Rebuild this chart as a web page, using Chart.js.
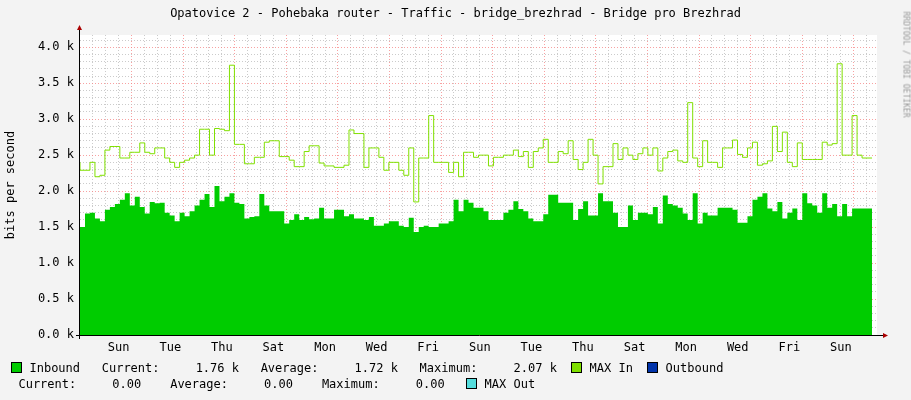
<!DOCTYPE html>
<html>
<head>
<meta charset="utf-8">
<script src="https://cdn.jsdelivr.net/npm/chart.js@4/dist/chart.umd.min.js"></script>
<style>
  body { margin: 0; background: #f3f3f3; font-family: 'DejaVu Sans Mono', monospace; }
  #wrap { position: relative; width: 911px; height: 400px; }
  canvas { position: absolute; left: 0; top: 0; }
  .title { position: absolute; top: 6px; left: 0; width: 911px; text-align: center; font-size: 12px; color: #000; }
  .side { position: absolute; right: -48px; top: 60px; transform: rotate(90deg); font-size: 8px; color: #999; white-space: nowrap; }
  pre { position: absolute; margin: 0; font-family: 'DejaVu Sans Mono', monospace; font-size: 12px; color: #000; }
  .sq { display: inline-block; width: 9px; height: 9px; border: 1px solid #000; vertical-align: -1px; }
</style>
</head>
<body>
<div id="wrap">
  <canvas id="grafico" width="911" height="400"></canvas>
  <div class="title">Opatovice 2 - Pohebaka router - Traffic - bridge_brezhrad - Bridge pro Brezhrad</div>
  <div class="side">RRDTOOL / TOBI OETIKER</div>
  <pre style="left:4px;top:361px;"> <span class="sq" style="background:#00cc00"></span> Inbound   Current:     1.76 k   Average:     1.72 k   Maximum:     2.07 k  <span class="sq" style="background:#7fe000"></span> MAX In  <span class="sq" style="background:#0033aa"></span> Outbound</pre>
  <pre style="left:4px;top:377px;">  Current:     0.00    Average:     0.00    Maximum:     0.00   <span class="sq" style="background:#55dddd"></span> MAX Out</pre>
</div>
<script>
// --- DATOS ---
const etiquetasDias = ['Sun', 'Tue', 'Thu', 'Sat', 'Mon', 'Wed', 'Fri', 'Sun', 'Tue', 'Thu', 'Sat', 'Mon', 'Wed', 'Fri', 'Sun'];
const diasTotales = 30.9;

// inbound (k bits/s)
const inbound = [
  1.67,1.50,1.69,1.70,1.62,1.58,
  1.74,1.78,1.82,1.88,1.97,1.80,1.92,1.78,
  1.69,1.85,1.83,1.84,1.70,1.66,1.58,
  1.70,1.65,1.72,1.80,1.88,1.96,1.78,2.07,1.86,
  1.92,1.97,1.84,1.82,1.62,1.64,1.65,1.96,1.80,
  1.72,1.72,1.72,1.55,1.60,1.68,1.60,1.64,1.61,1.62,1.77,
  1.62,1.62,1.74,1.74,1.65,1.68,1.62,1.62,1.60,1.64,1.52,1.52,
  1.55,1.58,1.58,1.52,1.50,1.63,1.43,1.50,1.52,1.50,1.50,
  1.55,1.55,1.58,1.88,1.72,1.88,1.84,1.77,1.77,1.72,1.60,
  1.60,1.60,1.70,1.74,1.86,1.75,1.72,1.62,1.58,1.58,1.68,
  1.95,1.95,1.84,1.84,1.84,1.60,1.75,1.86,1.66,1.66,1.97,
  1.86,1.86,1.70,1.50,1.50,1.80,1.60,1.70,1.70,1.68,1.78,
  1.55,1.94,1.82,1.80,1.77,1.69,1.60,1.97,1.55,1.70,
  1.66,1.66,1.77,1.77,1.77,1.74,1.56,1.56,1.65,1.88,1.92,
  1.97,1.76,1.72,1.85,1.62,1.70,1.76,1.60,1.97,1.83,
  1.80,1.70,1.97,1.77,1.82,1.65,1.82,1.65,1.76,1.76,1.76,1.76
];

// MAX In (k bits/s)
const maxIn = [
  2.40,2.29,2.29,2.40,2.20,2.22,
  2.57,2.62,2.62,2.46,2.46,2.54,2.54,2.67,
  2.54,2.52,2.60,2.60,2.46,2.40,2.33,
  2.40,2.43,2.46,2.50,2.86,2.86,2.50,2.87,2.86,
  2.84,3.75,2.65,2.65,2.38,2.38,2.47,2.47,2.68,
  2.70,2.70,2.48,2.48,2.43,2.34,2.34,2.55,2.63,2.63,2.39,
  2.35,2.35,2.33,2.33,2.36,2.85,2.80,2.80,2.33,2.60,2.60,2.47,
  2.29,2.40,2.40,2.29,2.22,2.60,1.85,2.46,2.46,3.05,2.40,
  2.40,2.40,2.26,2.40,2.20,2.54,2.54,2.47,2.50,2.50,2.35,
  2.47,2.47,2.50,2.50,2.57,2.48,2.55,2.33,2.55,2.60,2.72,
  2.40,2.40,2.55,2.52,2.70,2.44,2.30,2.40,2.72,2.50,2.10,
  2.34,2.34,2.66,2.44,2.60,2.50,2.44,2.52,2.60,2.50,2.60,
  2.28,2.46,2.55,2.57,2.42,2.40,3.23,2.46,2.34,2.70,
  2.40,2.40,2.33,2.60,2.60,2.71,2.51,2.47,2.60,2.68,2.36,
  2.38,2.42,2.90,2.55,2.82,2.40,2.34,2.67,2.44,2.44,
  2.44,2.44,2.68,2.64,2.66,3.77,2.50,2.50,3.05,2.50,2.46,2.46
];

const paso = diasTotales / inbound.length;
const aPuntos = arr => arr.map((v, i) => ({ x: i * paso, y: v }));

// --- FONDO BLANCO Y EJES ---
const fondoPlot = {
  id: 'fondoPlot',
  beforeDraw(chart) {
    const { ctx, chartArea: a } = chart;
    ctx.save();
    ctx.fillStyle = '#ffffff';
    ctx.fillRect(a.left, a.top, a.right - a.left, a.bottom - a.top);
    ctx.restore();
  },
  afterDraw(chart) {
    const { ctx, chartArea: a } = chart;
    ctx.save();
    ctx.strokeStyle = '#000';
    ctx.lineWidth = 1;
    ctx.beginPath();
    ctx.moveTo(a.left - 0.5, a.top - 6); ctx.lineTo(a.left - 0.5, a.bottom + 4);
    ctx.moveTo(a.left - 4, a.bottom + 0.5); ctx.lineTo(a.right + 6, a.bottom + 0.5);
    ctx.stroke();
    ctx.fillStyle = '#aa0000';
    ctx.beginPath();
    ctx.moveTo(a.left - 3, a.top - 5); ctx.lineTo(a.left + 2, a.top - 5); ctx.lineTo(a.left - 0.5, a.top - 10); ctx.fill();
    ctx.beginPath();
    ctx.moveTo(a.right + 6, a.bottom - 2); ctx.lineTo(a.right + 6, a.bottom + 3); ctx.lineTo(a.right + 11, a.bottom + 0.5); ctx.fill();
    ctx.restore();
  }
};

const esEntero = v => Math.abs(v - Math.round(v)) < 1e-6;
const rojo = 'rgba(245,130,130,0.75)';
const gris = 'rgba(190,190,190,0.8)';

new Chart(document.getElementById('grafico'), {
  type: 'line',
  data: {
    datasets: [
      { label: 'Inbound', data: aPuntos(inbound), stepped: 'after', fill: 'origin',
        backgroundColor: '#00cc00', borderColor: '#00cc00', borderWidth: 0, pointRadius: 0 },
      { label: 'MAX In', data: aPuntos(maxIn), stepped: 'after', fill: false,
        borderColor: '#80e000', borderWidth: 1, pointRadius: 0 }
    ]
  },
  plugins: [fondoPlot],
  options: {
    responsive: false,
    animation: false,
    layout: { padding: { top: 35, right: 34, left: 4, bottom: 0 } },
    plugins: { legend: { display: false }, tooltip: { enabled: false } },
    scales: {
      x: {
        type: 'linear', min: 0, max: diasTotales,
        afterFit: s => { s.height = 65; },
        afterBuildTicks: s => {
          const t = [];
          for (let v = 0.5; v < diasTotales; v += 0.5) t.push({ value: v });
          s.ticks = t;
        },
        border: { display: false, dash: [1, 2] },
        grid: {
          drawTicks: false,
          color: c => (esEntero(c.tick.value) && Math.round(c.tick.value) % 2 === 0) ? rojo : gris
        },
        ticks: {
          autoSkip: false, maxRotation: 0, padding: 6,
          color: '#000', font: { family: 'DejaVu Sans Mono', size: 12 },
          callback: v => {
            const k = (v - 1.5) / 2;
            return (esEntero(k) && k >= 0 && k < etiquetasDias.length) ? etiquetasDias[Math.round(k)] : '';
          }
        }
      },
      y: {
        min: 0, max: 4.17,
        afterFit: s => { s.width = 76; },
        afterBuildTicks: s => {
          const t = [];
          for (let i = 0; i <= 41; i++) t.push({ value: i / 10 });
          s.ticks = t;
        },
        border: { display: false, dash: [1, 2] },
        grid: {
          drawTicks: false,
          color: c => (Math.round(c.tick.value * 10) % 5 === 0) ? rojo : gris
        },
        title: { display: true, text: 'bits per second', color: '#000', font: { family: 'DejaVu Sans Mono', size: 12 }, padding: 0 },
        ticks: {
          autoSkip: false, padding: 6,
          color: '#000', font: { family: 'DejaVu Sans Mono', size: 12 },
          callback: v => (Math.round(v * 10) % 5 === 0) ? v.toFixed(1) + ' k' : ''
        }
      }
    }
  }
});
</script>
</body>
</html>
